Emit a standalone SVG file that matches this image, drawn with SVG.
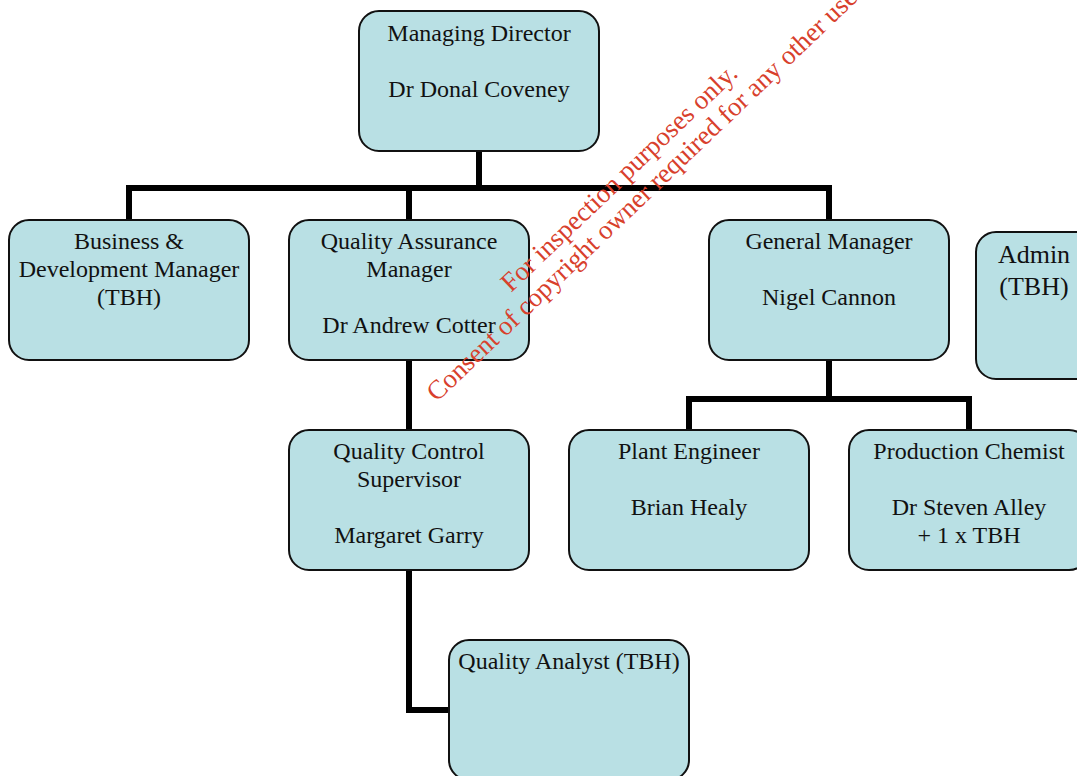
<svg xmlns="http://www.w3.org/2000/svg" width="1077" height="776" viewBox="0 0 1077 776">
<style>
.box{fill:#b9e0e4;stroke:#111;stroke-width:2}
.t{font-family:"Liberation Serif","Times New Roman",serif;font-size:24px;fill:#111;text-anchor:middle}
.big{font-size:26px}
.c{fill:none;stroke:#000;stroke-width:6;stroke-linejoin:miter;stroke-linecap:butt}
.wm{font-family:"Liberation Serif","Times New Roman",serif;font-size:26.8px;fill:#d8402c;text-anchor:middle}
</style>
<rect width="1077" height="776" fill="#fff"/>
<g id="connectors">
<path class="c" d="M479 151V188M129 220V188H829V220M409 188V220"/>
<path class="c" d="M829 360V399M689 430V399H969V430"/>
<path class="c" d="M409 360V430"/>
<path class="c" d="M409 570V710H449"/>
</g>
<g id="md"><rect class="box" x="359" y="11" width="240" height="140" rx="20"/>
<text class="t" x="479" y="41">Managing Director</text><text class="t" x="479" y="97">Dr Donal Coveney</text></g>
<g id="bd"><rect class="box" x="9" y="220" width="240" height="140" rx="20"/>
<text class="t" x="129" y="249">Business &amp;</text><text class="t" x="129" y="277">Development Manager</text><text class="t" x="129" y="305">(TBH)</text></g>
<g id="qa"><rect class="box" x="289" y="220" width="240" height="140" rx="20"/>
<text class="t" x="409" y="249">Quality Assurance</text><text class="t" x="409" y="277">Manager</text><text class="t" x="409" y="333">Dr Andrew Cotter</text></g>
<g id="gm"><rect class="box" x="709" y="220" width="240" height="140" rx="20"/>
<text class="t" x="829" y="249">General Manager</text><text class="t" x="829" y="305">Nigel Cannon</text></g>
<g id="admin"><rect class="box" x="976" y="232" width="120" height="147" rx="20"/>
<text class="t big" x="1034" y="263">Admin</text><text class="t big" x="1034" y="295">(TBH)</text></g>
<g id="qc"><rect class="box" x="289" y="430" width="240" height="140" rx="20"/>
<text class="t" x="409" y="459">Quality Control</text><text class="t" x="409" y="487">Supervisor</text><text class="t" x="409" y="543">Margaret Garry</text></g>
<g id="pe"><rect class="box" x="569" y="430" width="240" height="140" rx="20"/>
<text class="t" x="689" y="459">Plant Engineer</text><text class="t" x="689" y="515">Brian Healy</text></g>
<g id="pc"><rect class="box" x="849" y="430" width="240" height="140" rx="20"/>
<text class="t" x="969" y="459">Production Chemist</text><text class="t" x="969" y="515">Dr Steven Alley</text><text class="t" x="969" y="543">+ 1 x TBH</text></g>
<g id="qan"><rect class="box" x="449" y="640" width="240" height="140" rx="20"/>
<text class="t" x="569" y="669">Quality Analyst (TBH)</text></g>
<g id="watermark" transform="translate(625,184) rotate(-43.7)">
<text class="wm" x="0" y="0">For inspection purposes only.</text>
<text class="wm" x="8" y="28">Consent of copyright owner required for any other use.</text>
</g>
</svg>
